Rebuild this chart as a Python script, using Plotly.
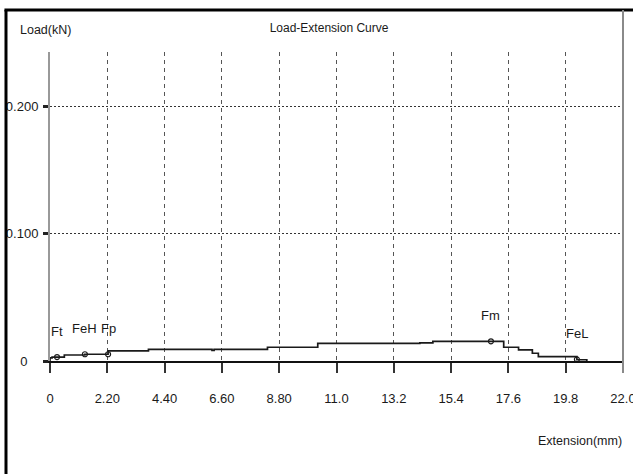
import plotly.graph_objects as go

# ---- data ----
extension_mm = [0, 0, 0.08, 0.55, 1.34, 2.23, 3.78, 6.22, 6.30, 8.35, 10.28, 14.20, 14.70, 17.42, 17.99, 18.52, 18.75, 20.23, 20.61]
load_kn      = [0, 0.0024, 0.0031, 0.0047, 0.0053, 0.0079, 0.0092, 0.0083, 0.0092, 0.0108, 0.0139, 0.0142, 0.0155, 0.0108, 0.0087, 0.0061, 0.0034, 0.0010, 0]

point_names = ["Ft", "FeH", "Fp", "Fm", "FeL"]
point_ext   = [0.27, 1.34, 2.23, 16.93, 20.23]
point_load  = [0.0031, 0.0053, 0.0053, 0.0155, 0.0013]

x_tickvals = [0, 2.2, 4.4, 6.6, 8.8, 11.0, 13.2, 15.4, 17.6, 19.8, 22.0]
x_ticktext = ["0", "2.20", "4.40", "6.60", "8.80", "11.0", "13.2", "15.4", "17.6", "19.8", "22.0"]
y_tickvals = [0, 0.1, 0.2]
y_ticktext = ["0\u00a0\u00a0\u00a0", "0.100", "0.200"]

FONT = "Liberation Sans, Arial, sans-serif"
TXT = "#1a1a1a"

fig = go.Figure()
fig.add_trace(go.Scatter(
    x=extension_mm, y=load_kn, mode="lines", line=dict(color="#1a1a1a", width=1.7, shape="hv"),
    cliponaxis=False, showlegend=False, hoverinfo="skip"))
fig.add_trace(go.Scatter(
    x=point_ext, y=point_load, mode="markers",
    marker=dict(symbol="circle-open", size=5, color="#1a1a1a", line=dict(width=1.2)),
    cliponaxis=False, showlegend=False))

annotations = []
for n, xv, yv in zip(point_names, point_ext, point_load):
    annotations.append(dict(x=xv, y=yv, xref="x", yref="y", text=n, showarrow=False,
                            yshift=26, font=dict(family=FONT, size=13, color=TXT)))
annotations.append(dict(x=-0.0558, y=1.071, xref="paper", yref="paper", text="Load(kN)",
                        showarrow=False, xanchor="left", yanchor="middle",
                        font=dict(family=FONT, size=12.5, color=TXT)))
annotations.append(dict(x=1.002, y=-0.259, xref="paper", yref="paper", text="Extension(mm)",
                        showarrow=False, xanchor="right", yanchor="middle",
                        font=dict(family=FONT, size=12.5, color=TXT)))

shapes = [
    dict(type="line", xref="paper", yref="paper", x0=-0.0768, x1=-0.0768, y0=-0.37, y1=1.1359,
         line=dict(color="#000", width=3)),
    dict(type="line", xref="paper", yref="paper", x0=-0.0795, x1=1.02, y0=1.1359, y1=1.1359,
         line=dict(color="#000", width=3)),
    dict(type="line", xref="paper", yref="paper", x0=1.0, x1=1.0, y0=-0.0388, y1=1.1359,
         line=dict(color="#8a8a8a", width=2)),
]

fig.update_layout(
    template="none",
    width=633, height=474,
    margin=dict(l=50, r=10, t=52, b=113, autoexpand=False),
    paper_bgcolor="white", plot_bgcolor="white",
    title=dict(text="Load-Extension Curve", x=0.487, xanchor="center", xref="paper",
               y=1 - 28 / 474, yanchor="middle", yref="container",
               font=dict(family=FONT, size=12, color=TXT)),
    annotations=annotations, shapes=shapes, showlegend=False,
)
fig.update_xaxes(
    range=[0, 22], tickvals=x_tickvals, ticktext=x_ticktext, automargin=False,
    showline=True, linecolor="#111", linewidth=2,
    ticks="outside", ticklen=10, tickwidth=1.5, tickcolor="#333",
    showgrid=True, gridcolor="#555", gridwidth=1, griddash="4px,4px",
    zeroline=False, ticklabelstandoff=14, ticklabeloverflow="allow",
    tickfont=dict(family=FONT, size=13, color=TXT),
)
fig.update_yaxes(
    range=[0, 0.243], tickvals=y_tickvals, ticktext=y_ticktext, automargin=False,
    showline=True, linecolor="#999", linewidth=2,
    ticks="outside", ticklen=5, tickwidth=3, tickcolor="#222",
    showgrid=True, gridcolor="#333", gridwidth=1, griddash="2px,2px",
    zeroline=False, ticklabelstandoff=2,
    tickfont=dict(family=FONT, size=13, color=TXT),
)

fig.write_html("out.html", config={"displayModeBar": False},
               post_script="document.body.style.margin='0';")
